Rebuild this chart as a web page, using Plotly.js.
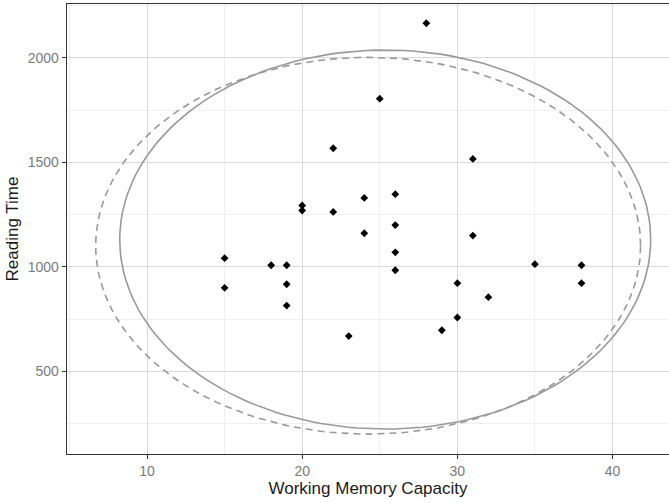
<!DOCTYPE html>
<html>
<head>
<meta charset="utf-8">
<script src="https://cdn.plot.ly/plotly-3.0.1.min.js"></script>
<style>
html,body{margin:0;padding:0;overflow:hidden;background:#fff;}
#chart{width:669px;height:503px;}
</style>
</head>
<body>
<div id="chart"></div>
<script>
const workingMemory = [15,15,18,19,19,19,20,20,22,22,23,24,24,25,26,26,26,26,28,29,30,30,31,31,32,35,38,38];
const readingTime   = [1042,900,1008,1008,917,815,1294,1270,1568,1263,669,1330,1161,1805,1348,1200,1070,984,2166,697,922,758,1517,1150,855,1013,1008,922];

// Ellipse parameters: [centre x, centre y, half width (x), half height (y)]
const ellipseNorm = [25.35, 1131, 17.11, 907];   // solid
const ellipseT    = [24.25, 1101.5, 17.56, 901.5]; // dashed

const xTicks = [10,20,30,40];
const yTicks = [500,1000,1500,2000];

function ellipsePath(p){
  const xs=[], ys=[], n=180;
  for(let i=0;i<=n;i++){
    const a = 2*Math.PI*i/n;
    xs.push(p[0] + p[2]*Math.cos(a));
    ys.push(p[1] + p[3]*Math.sin(a));
  }
  return {x:xs, y:ys};
}
const eN = ellipsePath(ellipseNorm);
const eT = ellipsePath(ellipseT);

const traces = [
  {x: workingMemory, y: readingTime, type:'scatter', mode:'markers',
   marker:{symbol:'diamond', size:6, color:'#000'}, hoverinfo:'skip'},
  {x: eN.x, y: eN.y, type:'scatter', mode:'lines',
   line:{color:'#999999', width:1.6}, hoverinfo:'skip'},
  {x: eT.x, y: eT.y, type:'scatter', mode:'lines',
   line:{color:'#999999', width:1.6, dash:'7px,5px'}, hoverinfo:'skip'}
];

const layout = {
  width:669, height:503,
  margin:{l:67, r:0, t:4, b:49},
  showlegend:false,
  paper_bgcolor:'#fff', plot_bgcolor:'#fff',
  font:{family:'"Liberation Sans", Arial, sans-serif'},
  xaxis:{
    range:[4.842, 43.64], tickvals:xTicks, ticktext:xTicks.map(String),
    showgrid:true, gridcolor:'#d9d9d9', gridwidth:1,
    minor:{dtick:5, tick0:0, showgrid:true, gridcolor:'#efefef', gridwidth:1, ticks:''},
    zeroline:false, showline:true, linecolor:'#333', linewidth:1.3, mirror:true,
    ticks:'outside', ticklen:4, tickcolor:'#333', tickwidth:1,
    tickfont:{size:14, color:'#7a7a7a'},
    title:{text:'Working Memory Capacity', font:{size:17, color:'#1a1a1a'}, standoff:2},
    automargin:false
  },
  yaxis:{
    range:[104.7, 2258.2], tickvals:yTicks, ticktext:yTicks.map(String),
    showgrid:true, gridcolor:'#d9d9d9', gridwidth:1,
    minor:{dtick:500, tick0:250, showgrid:true, gridcolor:'#efefef', gridwidth:1, ticks:''},
    zeroline:false, showline:true, linecolor:'#333', linewidth:1.3, mirror:false,
    ticks:'outside', ticklen:4, tickcolor:'#333', tickwidth:1,
    tickfont:{size:14, color:'#7a7a7a'},
    title:{text:'Reading Time', font:{size:17, color:'#1a1a1a'}, standoff:4},
    automargin:false
  }
};

Plotly.newPlot('chart', traces, layout, {staticPlot:true, displayModeBar:false});
</script>
</body>
</html>
